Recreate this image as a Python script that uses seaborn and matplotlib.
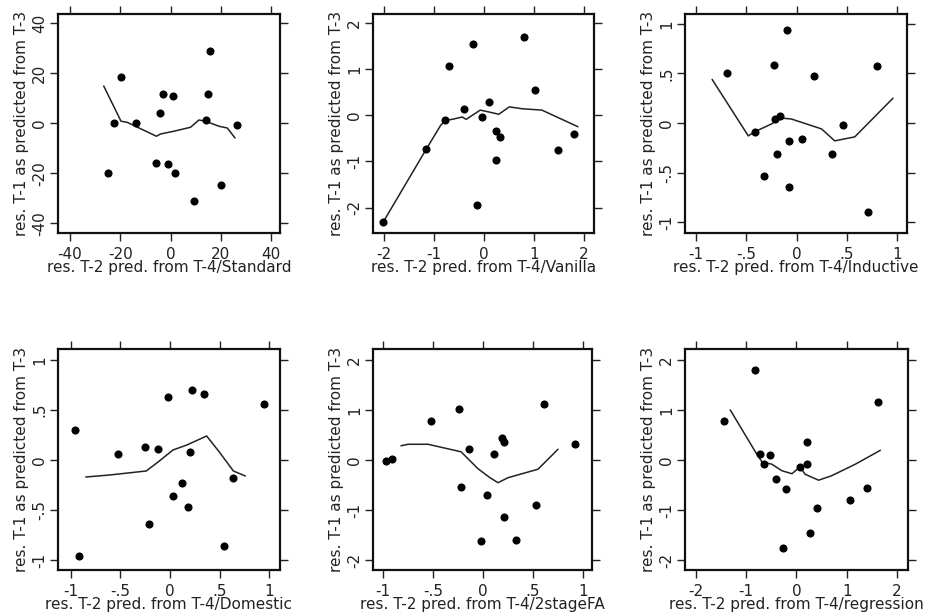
import matplotlib
matplotlib.use("Agg")
import matplotlib.pyplot as plt
import seaborn as sns
import pandas as pd

# ---------------------------------------------------------
# DATA
# ---------------------------------------------------------

# Panel 1: Standard
std_x = [15.6, -19.8, -2.8, 0.8, 14.9, -4.3, -22.6, -13.8, 14.2, 26.5,
         -24.9, -5.9, -0.8, 1.9, 9.4, 20.1]
std_y = [28.7, 18.5, 11.5, 10.9, 11.5, 4.0, -0.1, -0.1, 1.2, -0.8,
         -20.0, -16.0, -16.5, -20.0, -31.1, -24.8]
std_lx = [-26.6, -19.7, -17.3, -5.6, -4.0, 1.3, 8.0, 11.3, 14.0, 19.3, 22.6, 25.7]
std_ly = [14.9, 0.8, 0.4, -5.2, -4.3, -3.2, -1.6, 1.3, 0.8, -1.2, -1.9, -5.9]

# Panel 2: Vanilla
van_x = [-2.01, -1.15, -0.77, -0.70, -0.22, -0.40, -0.03, 0.11, 0.25, 0.32,
         0.25, -0.13, 0.80, 1.03, 1.48, 1.81]
van_y = [-2.32, -0.74, -0.11, 1.06, 1.54, 0.14, -0.05, 0.29, -0.34, -0.48,
         -0.97, -1.95, 1.69, 0.54, -0.75, -0.41]
van_lx = [-2.01, -1.15, -0.86, -0.76, -0.63, -0.43, -0.35, -0.07, 0.10, 0.30,
          0.51, 0.76, 1.16, 1.88]
van_ly = [-2.32, -0.74, -0.22, -0.11, -0.09, -0.04, -0.09, 0.11, 0.07, 0.02,
          0.18, 0.14, 0.11, -0.25]

# Panel 3: Inductive
ind_x = [-0.69, -0.09, -0.22, 0.17, 0.80, -0.41, -0.21, -0.16, -0.07, 0.05,
         -0.19, -0.32, -0.07, 0.35, 0.46, 0.71]
ind_y = [0.50, 0.94, 0.59, 0.47, 0.58, -0.09, 0.04, 0.07, -0.18, -0.16,
         -0.31, -0.53, -0.65, -0.31, -0.02, -0.90]
ind_lx = [-0.84, -0.48, -0.42, -0.25, -0.15, -0.05, 0.13, 0.25, 0.38, 0.58, 0.96]
ind_ly = [0.44, -0.13, -0.09, -0.01, 0.05, 0.04, -0.02, -0.06, -0.18, -0.14, 0.25]

# Panel 4: Domestic
dom_x = [-0.96, -0.92, -0.52, -0.25, -0.12, -0.02, 0.22, 0.34, 0.95, 0.20,
         0.12, 0.03, 0.18, -0.21, 0.64, 0.55]
dom_y = [0.30, -0.96, 0.06, 0.13, 0.11, 0.63, 0.70, 0.66, 0.56, 0.08,
         -0.23, -0.36, -0.47, -0.64, -0.18, -0.86]
dom_lx = [-0.85, -0.61, -0.24, -0.12, 0.03, 0.17, 0.37, 0.49, 0.64, 0.76]
dom_ly = [-0.17, -0.15, -0.11, -0.02, 0.10, 0.15, 0.24, 0.09, -0.11, -0.16]

# Panel 5: 2stageFA
fa_x = [-0.97, -0.91, -0.52, -0.24, -0.14, 0.11, 0.19, 0.21, 0.61, 0.92,
        -0.22, 0.04, 0.21, -0.02, 0.33, 0.53]
fa_y = [-0.01, 0.03, 0.78, 1.02, 0.23, 0.13, 0.45, 0.37, 1.12, 0.33,
        -0.53, -0.70, -1.14, -1.62, -1.59, -0.90]
fa_lx = [-0.82, -0.75, -0.55, -0.22, -0.05, 0.07, 0.15, 0.25, 0.55, 0.75]
fa_ly = [0.29, 0.32, 0.32, 0.17, -0.17, -0.35, -0.45, -0.35, -0.18, 0.22]

# Panel 6: regression
reg_x = [-1.44, -0.82, 1.63, -0.72, -0.52, -0.65, 0.07, 0.21, 0.21, -0.41,
         -0.20, 0.41, 1.06, 1.40, 0.27, -0.27]
reg_y = [0.78, 1.81, 1.16, 0.12, 0.11, -0.07, -0.13, -0.07, 0.37, -0.38,
         -0.58, -0.96, -0.80, -0.56, -1.45, -1.75]
reg_lx = [-1.32, -0.82, -0.69, -0.49, -0.29, -0.09, 0.07, 0.17, 0.44, 0.70, 1.17, 1.67]
reg_ly = [1.01, 0.17, -0.03, -0.08, -0.21, -0.27, -0.13, -0.28, -0.40, -0.31, -0.08, 0.20]

# Axis ticks and labels
ticks_40 = [-40, -20, 0, 20, 40]
labels_40 = ["-40", "-20", "0", "20", "40"]
ticks_2 = [-2, -1, 0, 1, 2]
labels_2 = ["-2", "-1", "0", "1", "2"]
ticks_1 = [-1, -0.5, 0, 0.5, 1]
labels_1 = ["-1", "-.5", "0", ".5", "1"]

y_title = "res. T-1 as predicted from T-3"
x_prefix = "res. T-2 pred. from T-4/"

# ---------------------------------------------------------
# PLOTTING
# ---------------------------------------------------------
sns.set_theme(style="ticks")
plt.rcParams['font.family'] = ['DejaVu Sans']
plt.rcParams['text.color'] = '#222222'
plt.rcParams['axes.labelcolor'] = '#222222'
plt.rcParams['xtick.color'] = '#222222'
plt.rcParams['ytick.color'] = '#222222'

W, H = 928, 614
fig = plt.figure(figsize=(W / 100, H / 100), dpi=100)

# (name, x, y, line x, line y, xticks, xlabels, yticks, ylabels, xlim, ylim, box px)
panels = [
    ("Standard", std_x, std_y, std_lx, std_ly, ticks_40, labels_40, ticks_40, labels_40,
     (-44.8, 43.6), (-43.9, 43.7), (58, 14, 280, 233)),
    ("Vanilla", van_x, van_y, van_lx, van_ly, ticks_2, labels_2, ticks_2, labels_2,
     (-2.21, 2.20), (-2.55, 2.19), (373, 14, 594, 233)),
    ("Inductive", ind_x, ind_y, ind_lx, ind_ly, ticks_1, labels_1, ticks_1, labels_1,
     (-1.11, 1.10), (-1.11, 1.10), (685, 14, 907, 233)),
    ("Domestic", dom_x, dom_y, dom_lx, dom_ly, ticks_1, labels_1, ticks_1, labels_1,
     (-1.13, 1.11), (-1.10, 1.11), (58, 349, 280, 570)),
    ("2stageFA", fa_x, fa_y, fa_lx, fa_ly, ticks_1, labels_1, ticks_2, labels_2,
     (-1.10, 1.09), (-2.20, 2.23), (373, 349, 592, 570)),
    ("regression", reg_x, reg_y, reg_lx, reg_ly, ticks_2, labels_2, ticks_2, labels_2,
     (-2.22, 2.22), (-2.20, 2.23), (685, 349, 908, 570)),
]

for name, px, py, lx, ly, xt, xl, yt, yl, xlim, ylim, box in panels:
    x0, y0, x1, y1 = box
    ax = fig.add_axes([x0 / W, 1 - y1 / H, (x1 - x0) / W, (y1 - y0) / H])

    pts = pd.DataFrame({"x": px, "y": py})
    smooth = pd.DataFrame({"x": lx, "y": ly})

    sns.lineplot(data=smooth, x="x", y="y", ax=ax, color="#222222",
                 linewidth=1.1, sort=False, estimator=None)
    sns.scatterplot(data=pts, x="x", y="y", ax=ax, color="black",
                    s=34, edgecolor="black", linewidth=0, zorder=3)

    ax.set_xlim(*xlim)
    ax.set_ylim(*ylim)
    ax.set_xticks(xt)
    ax.set_xticklabels(xl, fontsize=11)
    ax.set_yticks(yt)
    ax.set_yticklabels(yl, fontsize=11, rotation=90, va="center")
    ax.tick_params(direction="out", length=6, width=1, pad=2,
                   top=True, right=True, labeltop=False, labelright=False)
    ax.tick_params(axis="x", pad=4)

    ax.set_xlabel(x_prefix + name, fontsize=11, labelpad=-1)
    ax.set_ylabel(y_title, fontsize=11, labelpad=2)

    for s in ax.spines.values():
        s.set_visible(True)
        s.set_linewidth(1.6)
        s.set_color("#111111")

plt.savefig("out.png", dpi=100)
